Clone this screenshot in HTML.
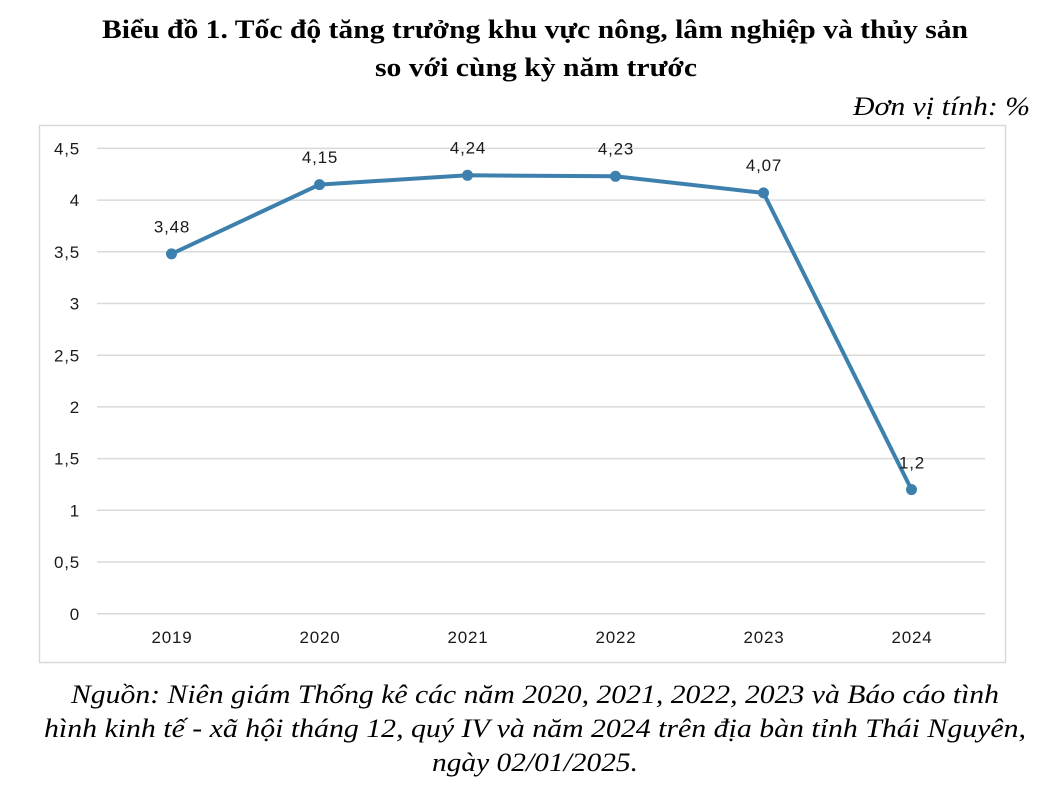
<!DOCTYPE html>
<html>
<head>
<meta charset="utf-8">
<style>
  html, body { margin: 0; padding: 0; background: #ffffff; }
  body { width: 1047px; height: 800px; overflow: hidden; }
  svg { display: block; }
  .title { font-family: "Liberation Serif", "Times New Roman", serif; font-weight: bold; font-size: 26px; fill: #000; }
  .ital { font-family: "Liberation Serif", "Times New Roman", serif; font-style: italic; font-size: 26px; fill: #000; }
  .ax { font-family: "Liberation Sans", Arial, sans-serif; font-size: 17px; fill: #1a1a1a; letter-spacing: 0.8px; }
</style>
</head>
<body>
<svg width="1047" height="800" viewBox="0 0 1047 800" xmlns="http://www.w3.org/2000/svg">
  <!-- Title -->
  <text class="title" x="535" y="38" text-anchor="middle" textLength="866" lengthAdjust="spacingAndGlyphs">Biểu đồ 1. Tốc độ tăng trưởng khu vực nông, lâm nghiệp và thủy sản</text>
  <text class="title" x="536" y="76" text-anchor="middle" textLength="322" lengthAdjust="spacingAndGlyphs">so với cùng kỳ năm trước</text>
  <text class="ital" x="1030" y="115" text-anchor="end" textLength="177" lengthAdjust="spacingAndGlyphs">Đơn vị tính: %</text>

  <!-- Chart box -->
  <rect x="39.5" y="125.5" width="966" height="537" fill="#ffffff" stroke="#d9d9d9" stroke-width="1.5"/>

  <!-- Gridlines -->
  <g stroke="#d9d9d9" stroke-width="1.5">
    <line x1="97" y1="148.4" x2="985" y2="148.4"/>
    <line x1="97" y1="200.1" x2="985" y2="200.1"/>
    <line x1="97" y1="251.8" x2="985" y2="251.8"/>
    <line x1="97" y1="303.5" x2="985" y2="303.5"/>
    <line x1="97" y1="355.2" x2="985" y2="355.2"/>
    <line x1="97" y1="406.9" x2="985" y2="406.9"/>
    <line x1="97" y1="458.6" x2="985" y2="458.6"/>
    <line x1="97" y1="510.3" x2="985" y2="510.3"/>
    <line x1="97" y1="562.0" x2="985" y2="562.0"/>
    <line x1="97" y1="613.7" x2="985" y2="613.7"/>
  </g>

  <!-- Y labels -->
  <g class="ax" text-anchor="end">
    <text x="80" y="154.5">4,5</text>
    <text x="80" y="206.2">4</text>
    <text x="80" y="257.9">3,5</text>
    <text x="80" y="309.6">3</text>
    <text x="80" y="361.3">2,5</text>
    <text x="80" y="413">2</text>
    <text x="80" y="464.7">1,5</text>
    <text x="80" y="516.4">1</text>
    <text x="80" y="568.1">0,5</text>
    <text x="80" y="619.8">0</text>
  </g>

  <!-- X labels -->
  <g class="ax" text-anchor="middle">
    <text x="172" y="643">2019</text>
    <text x="320" y="643">2020</text>
    <text x="468" y="643">2021</text>
    <text x="616" y="643">2022</text>
    <text x="764" y="643">2023</text>
    <text x="912" y="643">2024</text>
  </g>

  <!-- Series -->
  <polyline points="171.5,253.9 319.5,184.6 467.5,175.3 615.5,176.3 763.5,192.9 911.5,489.6"
            fill="none" stroke="#3d80ad" stroke-width="4" stroke-linejoin="round" stroke-linecap="round"/>
  <g fill="#3d80ad">
    <circle cx="171.5" cy="253.9" r="5.5"/>
    <circle cx="319.5" cy="184.6" r="5.5"/>
    <circle cx="467.5" cy="175.3" r="5.5"/>
    <circle cx="615.5" cy="176.3" r="5.5"/>
    <circle cx="763.5" cy="192.9" r="5.5"/>
    <circle cx="911.5" cy="489.6" r="5.5"/>
  </g>

  <!-- Data labels -->
  <g class="ax" text-anchor="middle">
    <text x="172" y="232.5">3,48</text>
    <text x="320" y="163">4,15</text>
    <text x="468" y="153.5">4,24</text>
    <text x="616" y="154.5">4,23</text>
    <text x="764" y="171">4,07</text>
    <text x="912" y="468.5">1,2</text>
  </g>

  <!-- Source -->
  <text class="ital" x="535" y="703" text-anchor="middle" textLength="928" lengthAdjust="spacingAndGlyphs">Nguồn: Niên giám Thống kê các năm 2020, 2021, 2022, 2023 và Báo cáo tình</text>
  <text class="ital" x="535" y="737" text-anchor="middle" textLength="982" lengthAdjust="spacingAndGlyphs">hình kinh tế - xã hội tháng 12, quý IV và năm 2024 trên địa bàn tỉnh Thái Nguyên,</text>
  <text class="ital" x="535" y="771" text-anchor="middle" textLength="206" lengthAdjust="spacingAndGlyphs">ngày 02/01/2025.</text>
</svg>
</body>
</html>
